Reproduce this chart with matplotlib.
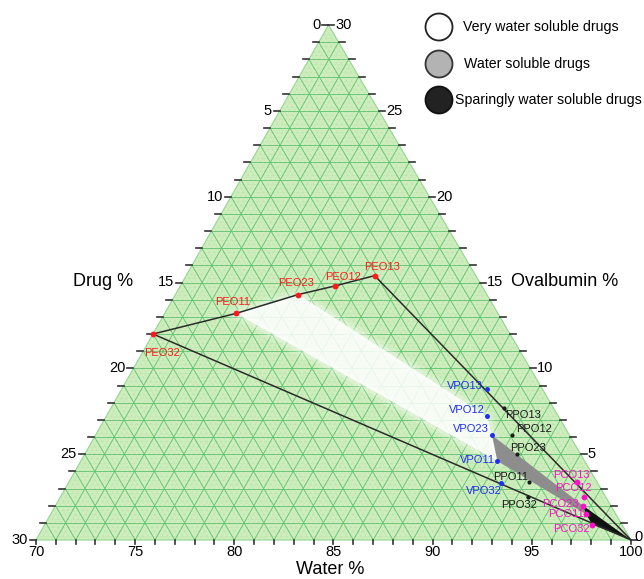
import numpy as np
import matplotlib
matplotlib.use('Agg')
import matplotlib.pyplot as plt
from matplotlib.patches import Polygon, Circle
from matplotlib.collections import LineCollection

plt.rcParams['font.family'] = ['Liberation Sans', 'DejaVu Sans']

# formulation codes (drug : ovalbumin ratio)
ratios = ['13', '12', '23', '11', '32']

# drug % and ovalbumin % of every formulation, water % = 100 - drug - ovalbumin
peo_drug = [5.1, 7.4, 9.5, 13.2, 18.0]
peo_oval = [15.4, 14.8, 14.3, 13.2, 12.0]
vpo_drug = [2.8, 3.6, 3.9, 4.4, 4.9]
vpo_oval = [8.8, 7.2, 6.1, 4.6, 3.3]
ppo_drug = [2.5, 2.9, 3.2, 3.4, 3.9]
ppo_oval = [7.7, 6.1, 5.0, 3.4, 2.5]
pco_drug = [1.0, 1.1, 1.4, 1.5, 1.5]
pco_oval = [3.4, 2.5, 2.0, 1.5, 0.9]

# pure water corner (100 % water)
corner_drug, corner_oval = 0.0, 0.0

water_ticks = [70, 75, 80, 85, 90, 95, 100]
drug_ticks = [0, 5, 10, 15, 20, 25, 30]
oval_ticks = [0, 5, 10, 15, 20, 25, 30]

legend_labels = ['Very water soluble drugs', 'Water soluble drugs',
                 'Sparingly water soluble drugs']

# triangle corners in canvas pixels
BL = (36.0, 540.0)    # water 70, drug 30
BR = (631.0, 540.0)   # water 100
TOP = (328.5, 25.0)   # water 70, ovalbumin 30


def tern(drug, oval):
    drug = np.asarray(drug, float)
    oval = np.asarray(oval, float)
    a = (30.0 - drug - oval) / 30.0
    b = oval / 30.0
    x = BL[0] + a * (BR[0] - BL[0]) + b * (TOP[0] - BL[0])
    y = BL[1] + a * (BR[1] - BL[1]) + b * (TOP[1] - BL[1])
    return x, y


fig = plt.figure(figsize=(6.44, 5.79), dpi=100)
ax = fig.add_axes([0, 0, 1, 1])
ax.set_xlim(0, 644)
ax.set_ylim(579, 0)
ax.axis('off')

# background triangle
tx, ty = tern([30, 0, 0], [0, 0, 30])
ax.add_patch(Polygon(np.column_stack([tx, ty]), closed=True,
                     fc='#d0eebf', ec='#8fd68f', lw=0.8, zorder=0))


def grid_segments(step):
    segs = []
    for k in np.arange(step, 30 - 1e-6, step):
        # constant ovalbumin
        x, y = tern([30 - k, 0], [k, k])
        segs.append(list(zip(x, y)))
        # constant drug
        x, y = tern([k, k], [30 - k, 0])
        segs.append(list(zip(x, y)))
        # constant water
        x, y = tern([30 - k, 0], [0, 30 - k])
        segs.append(list(zip(x, y)))
    return segs


ax.add_collection(LineCollection(grid_segments(0.25), colors='#b2e2a2',
                                 linewidths=0.5, linestyles=(0, (1, 1.5)),
                                 zorder=1))
ax.add_collection(LineCollection(grid_segments(1.0), colors='#5fc36f',
                                 linewidths=0.6, zorder=2))

# solubility regions
def region(drugs, ovals, **kw):
    x, y = tern(drugs, ovals)
    return Polygon(np.column_stack([x, y]), closed=True, **kw)

white_d = [peo_drug[3], peo_drug[2], vpo_drug[1], vpo_drug[2], vpo_drug[3]]
white_o = [peo_oval[3], peo_oval[2], vpo_oval[1], vpo_oval[2], vpo_oval[3]]
for lw, al in [(10, 0.15), (5, 0.25)]:
    ax.add_patch(region(white_d, white_o, fc='none', ec='white', lw=lw,
                        alpha=al, joinstyle='round', zorder=3))
ax.add_patch(region(white_d, white_o, fc='white', ec='none', alpha=0.85,
                    zorder=3))

gray_d = [vpo_drug[2], pco_drug[2], pco_drug[3], vpo_drug[3]]
gray_o = [vpo_oval[2], pco_oval[2], pco_oval[3], vpo_oval[3]]
ax.add_patch(region(gray_d, gray_o, fc='#8d8d8d', ec='none', zorder=4))

black_d = [pco_drug[2], corner_drug, pco_drug[4], pco_drug[3]]
black_o = [pco_oval[2], corner_oval, pco_oval[4], pco_oval[3]]
ax.add_patch(region(black_d, black_o, fc='#111111', ec='none', zorder=4))

# boundary lines
order = [4, 3, 2, 1, 0]
bx, by = tern([peo_drug[i] for i in order] + [corner_drug, peo_drug[4]],
              [peo_oval[i] for i in order] + [corner_oval, peo_oval[4]])
ax.plot(bx, by, color='#2b2b2b', lw=1.1, zorder=5)

# formulation points and labels
series = [
    ('PEO', peo_drug, peo_oval, '#ff1a1a', 4.2,
     [(7, 9, 'center'), (8, 9, 'center'), (-2, 12, 'center'),
      (-3, 11, 'center'), (9, -19, 'center')]),
    ('VPO', vpo_drug, vpo_oval, '#1f2ff0', 3.6,
     [(-4, 3, 'right'), (-2, 6, 'right'), (-3, 6, 'right'),
      (-2, 1, 'right'), (1, -8, 'right')]),
    ('PPO', ppo_drug, ppo_oval, '#1a1a1a', 3.0,
     [(1, -7, 'left'), (4, 6, 'left'), (-7, 6, 'left'),
      (-1, 5, 'right'), (-9, -8, 'center')]),
    ('PCO', pco_drug, pco_oval, '#ff10c8', 4.2,
     [(-5, 7, 'center'), (-11, 9, 'center'), (-4, 2, 'right'),
      (-2, 0, 'right'), (-2, -4, 'right')]),
]
for prefix, d, o, col, ms, offs in series:
    x, y = tern(d, o)
    ax.plot(x, y, 'o', ms=ms, color=col, mec='none', zorder=6)
    for xi, yi, r, (dx, dy, ha) in zip(x, y, ratios, offs):
        ax.annotate(prefix + r, xy=(xi, yi), xytext=(dx, dy),
                    textcoords='offset pixels', ha=ha, va='center',
                    fontsize=8, color=col, zorder=7)

# axis ticks
tick_col = '#333333'
for k in range(31):
    x, y = tern(k, 30 - k)
    ax.plot([x, x - 6], [y, y], color=tick_col, lw=1.2, zorder=2)
    x, y = tern(0, k)
    ax.plot([x, x + 6], [y, y], color=tick_col, lw=1.2, zorder=2)
    x, y = tern(30 - k, 0)
    ax.plot([x, x], [y, y + 4], color=tick_col, lw=1.2, zorder=2)

fs = 10.5
for v in drug_ticks:
    x, y = tern(v, 30 - v)
    ax.text(x - 8, y, str(v), ha='right', va='center', fontsize=fs)
for v in oval_ticks:
    x, y = tern(0, v)
    ax.text(x + (3 if v == 0 else 7), y - (3 if v == 0 else 0), str(v),
            ha='left', va='center', fontsize=fs)
for v in water_ticks:
    x, y = tern(100 - v, 0)
    ax.text(x, y + 12, str(v), ha='center', va='center', fontsize=fs)

ax.text(103, 281, 'Drug %', ha='center', va='center', fontsize=13)
ax.text(565, 282, 'Ovalbumin %', ha='center', va='center', fontsize=13)
ax.text(330, 570, 'Water %', ha='center', va='center', fontsize=13)

# legend
legend_style = [('white', '#222222'), ('#b3b3b3', '#333333'), ('#222222', '#111111')]
legend_y = [27, 64, 100]
legend_tx = [463, 464, 455]
for lab, (fc, ec), ly, lx in zip(legend_labels, legend_style, legend_y, legend_tx):
    ax.add_patch(Circle((439, ly), 13.5, fc=fc, ec=ec, lw=1.3, zorder=6))
    ax.text(lx, ly, lab, ha='left', va='center', fontsize=10.2)

fig.savefig('out.png', dpi=100)
